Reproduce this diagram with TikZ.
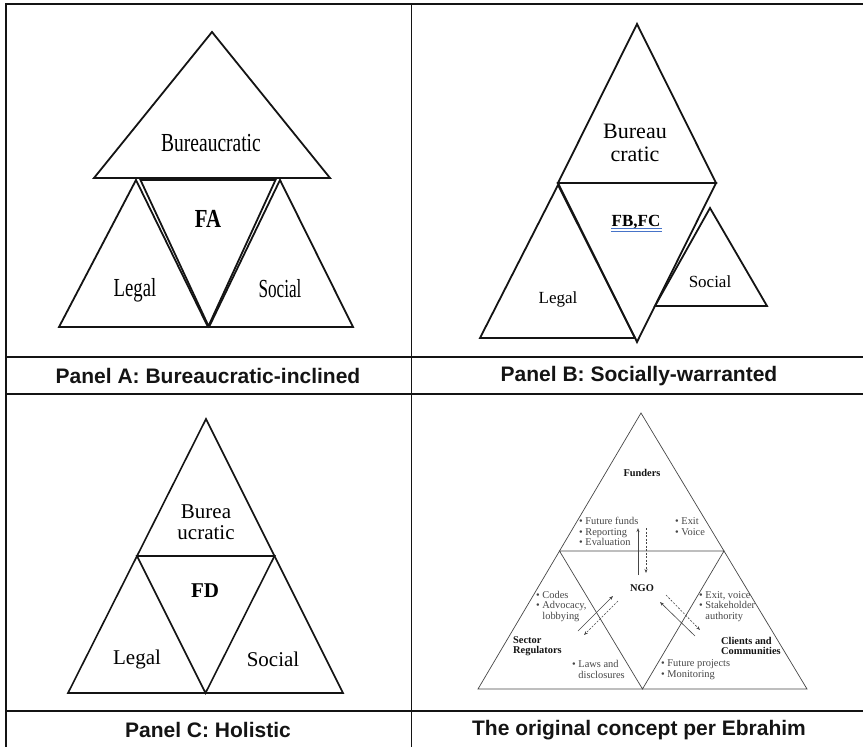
\documentclass[tikz,border=0pt]{standalone}
\usepackage{graphicx}
\usepackage{fontspec}
\setmainfont{Liberation Serif}
\newfontfamily\capfont{Liberation Sans}
\usetikzlibrary{arrows.meta}
\definecolor{ink}{RGB}{20,20,20}
\definecolor{dgrey}{RGB}{70,70,70}
\definecolor{uline}{RGB}{70,115,200}
\tikzset{
  grid/.style={line width=1.6pt, draw=ink},
  tri/.style={line width=1.8pt, draw=ink, line join=miter},
  thintri/.style={line width=0.7pt, draw=dgrey},
  caption/.style={font=\capfont\bfseries\fontsize{21}{25}\selectfont, text=ink, inner sep=0pt},
  lblA/.style={font=\fontsize{26}{30}\selectfont, inner sep=0pt},
  lblB/.style={font=\fontsize{17}{20}\selectfont, inner sep=0pt},
  lblC/.style={font=\fontsize{21}{21}\selectfont, inner sep=0pt, align=center},
  small/.style={font=\fontsize{10.4}{10.5}\selectfont, text=dgrey, inner sep=0pt, align=left},
  smallb/.style={font=\bfseries\fontsize{10.4}{10.5}\selectfont, text=ink, inner sep=0pt, align=left},
  arr/.style={line width=0.6pt, draw=dgrey, -{Stealth[length=4pt,width=3pt]}},
  darr/.style={line width=0.6pt, draw=dgrey, dash pattern=on 2pt off 1.5pt, -{Stealth[length=4pt,width=3pt]}}
}
\begin{document}
\begin{tikzpicture}[x=1pt,y=-1pt]
\useasboundingbox (0,0) rectangle (863,747);
% grid
\coordinate (g1) at (6,4); \coordinate (g2) at (863,4);
\coordinate (g3) at (6,747); \coordinate (g4) at (411.5,4); \coordinate (g5) at (411.5,747);
\draw[grid] (g3) -- (g1) -- (g2);
\draw[grid] (g4) -- (g5);
\foreach \yy in {357,394,711} \draw[grid] (6,\yy) -- (863,\yy);

% ---------- Panel A ----------
\coordinate (a1) at (212,32); \coordinate (a2) at (94,178); \coordinate (a3) at (330,178);
\coordinate (l1) at (136,180); \coordinate (l2) at (59,327); \coordinate (l3) at (208,327);
\coordinate (s1) at (280,180); \coordinate (s2) at (209,327); \coordinate (s3) at (353,327);
\coordinate (f1) at (140.5,180); \coordinate (f2) at (275.5,180); \coordinate (f3) at (208.5,326);
\draw[tri] (a1) -- (a2) -- (a3) -- cycle;
\draw[tri] (l1) -- (l2) -- (l3) -- cycle;
\draw[tri] (s1) -- (s2) -- (s3) -- cycle;
\draw[tri] (f1) -- (f2) -- (f3) -- cycle;
\node[lblA] (tA1) at (211,143) {\scalebox{0.75}[1]{Bureaucratic}};
\node[lblA] (tA2) at (208,219) {\scalebox{0.8}[1]{\bfseries FA}};
\node[lblA] (tA3) at (135,290) {\scalebox{0.72}[1]{Legal}};
\node[lblA] (tA4) at (280,289) {\scalebox{0.66}[1]{Social}};
\node[caption] (capA) at (208,376) {Panel A: Bureaucratic-inclined};

% ---------- Panel B ----------
\coordinate (b1) at (637,24); \coordinate (b2) at (558,183); \coordinate (b3) at (716,183);
\coordinate (bl1) at (558,185); \coordinate (bl2) at (480,338); \coordinate (bl3) at (635,338);
\coordinate (bf3) at (637,342);
\coordinate (bs1) at (710,208); \coordinate (bs2) at (655,306); \coordinate (bs3) at (767,306);
\draw[tri] (b1) -- (b2) -- (b3) -- cycle;
\draw[tri] (bl1) -- (bl2) -- (bl3) -- cycle;
\draw[tri] (b2) -- (b3) -- (bf3) -- cycle;
\draw[tri] (bs1) -- (bs2) -- (bs3) -- cycle;
\node[font=\fontsize{22}{23}\selectfont, inner sep=0pt, align=center] (tB1) at (635,143) {Bureau\\cratic};
\node[lblB] (tB2) at (636,222) {\bfseries FB,FC};
\coordinate (u1) at (611,228); \coordinate (u2) at (662,228);
\coordinate (u3) at (611,231.5); \coordinate (u4) at (662,231.5);
\draw[uline, line width=0.9pt] (u1) -- (u2);
\draw[uline, line width=0.9pt] (u3) -- (u4);
\node[lblB] (tB3) at (558,299) {Legal};
\node[lblB] (tB4) at (710,282) {Social};
\node[caption] (capB) at (639,376) {Panel B: Socially-warranted};

% ---------- Panel C ----------
\coordinate (c1) at (206,419); \coordinate (c2) at (68,693); \coordinate (c3) at (343,693);
\coordinate (cm1) at (137,556); \coordinate (cm2) at (274.5,556); \coordinate (cm3) at (205.5,693);
\draw[tri, line width=1.6pt] (c1) -- (c2) -- (c3) -- cycle;
\draw[tri, line width=1.6pt] (cm1) -- (cm2) -- (cm3) -- cycle;
\node[lblC] (tC1) at (206,522) {Burea\\ucratic};
\node[lblC] (tC2) at (205,591) {\bfseries FD};
\node[lblC] (tC3) at (137,659) {Legal};
\node[lblC] (tC4) at (273,659) {Social};
\node[caption] (capC) at (208,730) {Panel C: Holistic};

% ---------- Panel D ----------
\coordinate (d1) at (641,413); \coordinate (d2) at (478,689); \coordinate (d3) at (807,689);
\coordinate (dm1) at (559.5,551); \coordinate (dm2) at (724,551); \coordinate (dm3) at (642.5,689);
\draw[thintri] (d1) -- (d2) -- (d3) -- cycle;
\draw[thintri] (dm1) -- (dm2) -- (dm3) -- cycle;
\node[smallb] (fund) at (642,473) {Funders};
\node[small, anchor=west] (ff) at (579,531.5) {\textbullet\ Future funds\\\textbullet\ Reporting\\\textbullet\ Evaluation};
\node[small, anchor=west] (ev) at (675,526.5) {\textbullet\ Exit\\\textbullet\ Voice};
\node[smallb] (ngo) at (642,588) {NGO};
\node[small, anchor=west] (codes) at (536,606.5) {\textbullet\ Codes\\\textbullet\ Advocacy,\\\hphantom{\textbullet\ }lobbying};
\node[small, anchor=west] (exv) at (699,606.5) {\textbullet\ Exit, voice\\\textbullet\ Stakeholder\\\hphantom{\textbullet\ }authority};
\node[smallb, anchor=west] (sec) at (513,646) {Sector\\Regulators};
\node[smallb, anchor=west] (cli) at (721,646) {Clients and\\Communities};
\node[small, anchor=west] (laws) at (572,669.5) {\textbullet\ Laws and\\\hphantom{\textbullet\ }disclosures};
\node[small, anchor=west] (fp) at (661,669.5) {\textbullet\ Future projects\\\textbullet\ Monitoring};
% arrows
\coordinate (p1) at (638,575); \coordinate (p2) at (638,528);
\coordinate (q1) at (646,528); \coordinate (q2) at (646,573);
\coordinate (r1) at (578,631); \coordinate (r2) at (613,596);
\coordinate (r3) at (618,601); \coordinate (r4) at (584,635);
\coordinate (w1) at (695,636); \coordinate (w2) at (660,602);
\coordinate (w3) at (666,595); \coordinate (w4) at (700,630);
\draw[arr] (p1) -- (p2);
\draw[darr] (q1) -- (q2);
\draw[arr] (r1) -- (r2);
\draw[darr] (r3) -- (r4);
\draw[arr] (w1) -- (w2);
\draw[darr] (w3) -- (w4);
\node[caption] (capD) at (639,730) {The original concept per Ebrahim};
\end{tikzpicture}
\end{document}
